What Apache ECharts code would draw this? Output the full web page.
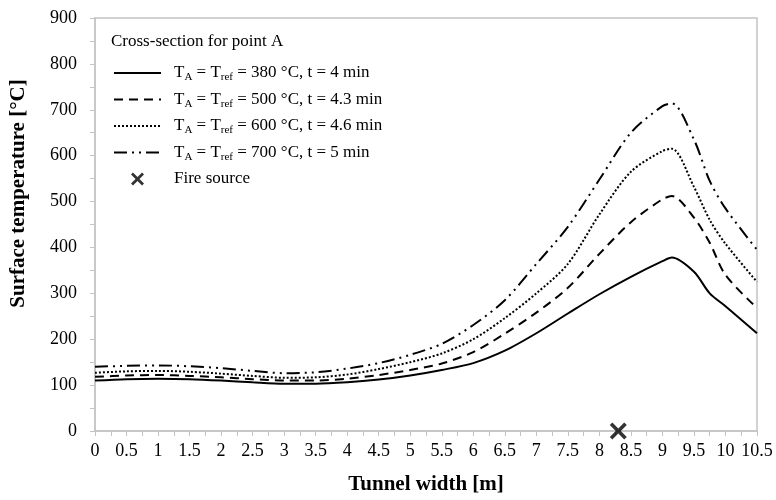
<!DOCTYPE html>
<html>
<head>
<meta charset="utf-8">
<script src="https://cdn.jsdelivr.net/npm/echarts@6/dist/echarts.min.js"></script>
<style>
  html, body { margin: 0; padding: 0; background: #fff; }
  #chart { width: 776px; height: 500px; }
</style>
</head>
<body>
<div id="chart"></div>
<script>
// tunnel width positions [m]
const widths = [0, 0.5, 1, 1.5, 2, 2.5, 3, 3.5, 4, 4.5, 5, 5.5, 6, 6.5, 7, 7.5, 8, 8.5, 9, 9.15, 9.5, 9.75, 10, 10.5]

// surface temperature [°C]
const temp380 = [110, 113, 114, 113, 110, 106, 103, 103, 106, 112, 121, 133, 148, 175, 213, 256, 298, 336, 370, 378, 347, 300, 272, 213]
const temp500 = [118, 121, 122, 120, 117, 113, 110, 110, 114, 122, 133, 147, 172, 212, 258, 312, 386, 455, 505, 512, 465, 410, 340, 268]
const temp600 = [127, 130, 131, 129, 125, 120, 116, 117, 123, 135, 150, 169, 200, 246, 300, 364, 472, 565, 610, 615, 532, 460, 408, 325]
const temp700 = [140, 142, 143, 141, 137, 131, 126, 128, 136, 148, 166, 190, 231, 285, 364, 445, 548, 650, 708, 714, 635, 545, 485, 395]

const fireSource = [[8.3, 0]]

const seriesNames = [
  'T_A = T_ref = 380 °C, t = 4 min',
  'T_A = T_ref = 500 °C, t = 4.3 min',
  'T_A = T_ref = 600 °C, t = 4.6 min',
  'T_A = T_ref = 700 °C, t = 5 min'
]
const dashTypes = ['solid', [9, 6], [2, 2], [13, 5, 2, 5, 2, 5]]

const font = 'Liberation Serif'
const crossPath = 'path://M1.5,0L5,3.5L8.5,0L10,1.5L6.5,5L10,8.5L8.5,10L5,6.5L1.5,10L0,8.5L3.5,5L0,1.5Z'

function pairs(ys) {
  return widths.map((x, i) => [x, ys[i]])
}

const chart = echarts.init(document.getElementById('chart'))

const lineSeries = [temp380, temp500, temp600, temp700].map((ys, i) => ({
  name: seriesNames[i],
  type: 'line',
  data: pairs(ys),
  smooth: 0.3,
  symbol: 'none',
  animation: false,
  itemStyle: { color: '#000' },
  lineStyle: { color: '#000', width: 2, type: dashTypes[i] }
}))

// legend entries: hide the marker on the line samples, keep the cross
const legendData = seriesNames.map(name => ({ name, itemStyle: { opacity: 0 } }))
legendData.push({ name: 'Fire source' })

chart.setOption({
  backgroundColor: '#fff',
  animation: false,
  title: {
    text: 'Cross-section for point A',
    left: 106,
    top: 28,
    textStyle: { fontFamily: font, fontSize: 17, fontWeight: 'normal', color: '#000' }
  },
  legend: {
    orient: 'vertical',
    left: 108,
    top: 58,
    itemWidth: 47,
    itemHeight: 13,
    itemGap: 6.5,
    data: legendData,
    formatter: name => name.replace(/_(\w+)/g, '{s|$1}'),
    textStyle: {
      fontFamily: font,
      fontSize: 17,
      color: '#000',
      lineHeight: 20,
      padding: [0, 0, 0, 8],
      rich: {
        s: { fontFamily: font, fontSize: 11, color: '#000', lineHeight: 20, verticalAlign: 'bottom' }
      }
    }
  },
  grid: {
    left: 90,
    right: 19,
    top: 18,
    bottom: 65,
    show: true,
    borderColor: '#c4c4c4',
    borderWidth: 1.5
  },
  xAxis: {
    type: 'value',
    min: 0,
    max: 10.5,
    interval: 0.5,
    name: 'Tunnel width [m]',
    nameLocation: 'middle',
    nameGap: 43,
    nameTextStyle: { fontFamily: font, fontSize: 21, fontWeight: 'bold', color: '#000' },
    axisLine: { lineStyle: { color: '#c4c4c4', width: 1.5 } },
    axisTick: { show: true, length: 5, lineStyle: { color: '#c4c4c4' } },
    minorTick: { show: true, splitNumber: 2, length: 5, lineStyle: { color: '#c4c4c4' } },
    axisLabel: { fontFamily: font, fontSize: 18, color: '#000', margin: 11, showMaxLabel: true },
    splitLine: { show: false }
  },
  yAxis: {
    type: 'value',
    min: 0,
    max: 900,
    interval: 100,
    name: 'Surface temperature [°C]',
    nameLocation: 'middle',
    nameGap: 66,
    nameTextStyle: { fontFamily: font, fontSize: 21, fontWeight: 'bold', color: '#000', padding: [0, 0, 0, 62] },
    axisLine: { show: true, lineStyle: { color: '#c4c4c4', width: 1.5 } },
    axisTick: { show: true, length: 5, lineStyle: { color: '#c4c4c4' } },
    minorTick: { show: true, splitNumber: 2, length: 5, lineStyle: { color: '#c4c4c4' } },
    axisLabel: { fontFamily: font, fontSize: 18, color: '#000', margin: 18 },
    splitLine: { show: false }
  },
  series: lineSeries.concat([{
    name: 'Fire source',
    type: 'scatter',
    data: fireSource,
    symbol: crossPath,
    symbolSize: 17,
    clip: false,
    z: 5,
    itemStyle: { color: '#000' }
  }])
})
</script>
</body>
</html>
